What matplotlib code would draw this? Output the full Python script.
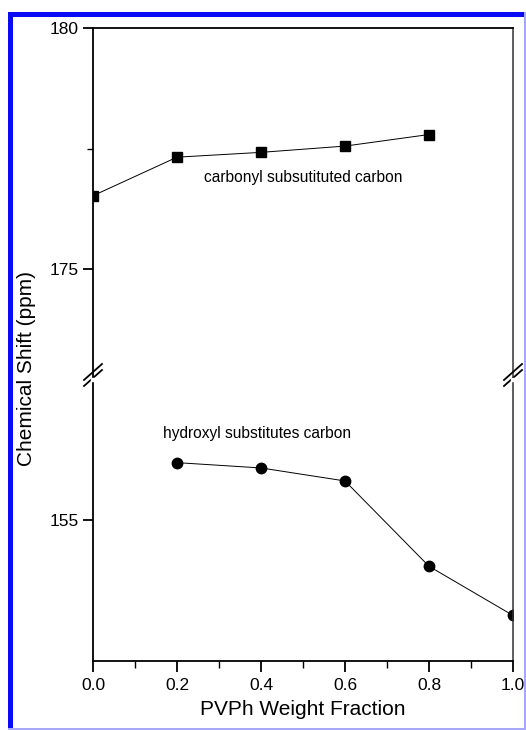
import matplotlib
matplotlib.use("Agg")
import matplotlib.pyplot as plt
from matplotlib.patches import Rectangle
from matplotlib.lines import Line2D
from matplotlib.ticker import MultipleLocator, FixedLocator, NullLocator

plt.rcParams['font.family'] = ['Liberation Sans', 'DejaVu Sans']

# data
x_carbonyl = [0.0, 0.2, 0.4, 0.6, 0.8]
y_carbonyl = [176.52, 177.32, 177.42, 177.55, 177.79]
x_hydroxyl = [0.2, 0.4, 0.6, 0.8, 1.0]
y_hydroxyl = [156.19, 156.08, 155.81, 154.04, 153.02]
x_ticks = [0.0, 0.2, 0.4, 0.6, 0.8, 1.0]
x_ticklabels = ["0.0", "0.2", "0.4", "0.6", "0.8", "1.0"]
upper_yticks = [175, 180]
lower_yticks = [155]

W, H = 526, 730
fig = plt.figure(figsize=(W / 100, H / 100), dpi=100)

L, R = 93 / W, 513 / W
top = 1 - 28 / H
bot = 1 - 661 / H
brk = 1 - 378 / H

ax_u = fig.add_axes([L, brk, R - L, top - brk])
ax_l = fig.add_axes([L, bot, R - L, brk - bot])

ppu = 48.2  # pixels per ppm
ax_u.set_ylim(180 - (378 - 28) / ppu, 180)
ax_l.set_ylim(155 - (661 - 520) / ppu, 155 + (520 - 378) / ppu)

for ax in (ax_u, ax_l):
    ax.set_xlim(0, 1.0)
    ax.patch.set_alpha(0)
    for s in ax.spines.values():
        s.set_linewidth(1.3)
        s.set_color('black')
    ax.spines['right'].set_linewidth(1.1)
    ax.spines['right'].set_color('#333333')
    ax.tick_params(axis='y', which='major', direction='out', length=7, width=1.3,
                   labelsize=12.5, pad=3)
    ax.tick_params(axis='y', which='minor', direction='out', length=4, width=1.0)
    ax.tick_params(right=False)

ax_u.spines['bottom'].set_visible(False)
ax_l.spines['top'].set_visible(False)
ax_u.set_xticks([])
ax_u.yaxis.set_major_locator(FixedLocator(upper_yticks))
ax_u.yaxis.set_minor_locator(MultipleLocator(2.5))
ax_l.yaxis.set_major_locator(FixedLocator(lower_yticks))
ax_l.yaxis.set_minor_locator(NullLocator())

ax_l.set_xticks(x_ticks)
ax_l.set_xticklabels(x_ticklabels)
ax_l.xaxis.set_minor_locator(MultipleLocator(0.1))
ax_l.tick_params(axis='x', which='major', direction='out', length=8, width=1.3,
                 labelsize=12.5, pad=4)
ax_l.tick_params(axis='x', which='minor', direction='out', length=5, width=1.0)

ax_u.plot(x_carbonyl, y_carbonyl, color='black', lw=0.7, marker='s', ms=7.2,
          mfc='black', mec='black')
ax_l.plot(x_hydroxyl, y_hydroxyl, color='black', lw=0.7, marker='o', ms=7.5,
          mfc='black', mec='black')

ax_u.text(0.264, 176.9, "carbonyl subsutituted carbon", fontsize=11.2, va='center', ha='left')
ax_l.text(0.167, 156.8, "hydroxyl substitutes carbon", fontsize=11.2, va='center', ha='left')

ax_l.set_xlabel("PVPh Weight Fraction", fontsize=15, labelpad=5)
fig.text(27 / W, 1 - 368 / H, "Chemical Shift (ppm)", rotation=90, fontsize=15,
         ha='center', va='center')

# break marks
for xp in (L, R):
    for dy in (-6, 0):
        x0 = xp * W - 9
        x1 = xp * W + 9
        y0 = 378 + dy + 8
        y1 = 378 + dy - 8
        fig.add_artist(Line2D([x0 / W, x1 / W], [1 - y0 / H, 1 - y1 / H],
                              transform=fig.transFigure, color='black', lw=1.3))
    fig.add_artist(Rectangle((xp - 2 / W, 1 - 381 / H), 4 / W, 3 / H,
                             transform=fig.transFigure, color='white', zorder=5))

# blue frame
fig.add_artist(Rectangle((8 / W, 0), 5 / W, 1 - 12 / H, transform=fig.transFigure,
                         color='#0A0AF5', lw=0))
fig.add_artist(Rectangle((8 / W, 1 - 17 / H), 1 - 8 / W, 5 / H, transform=fig.transFigure,
                         color='#0A0AF5', lw=0))
fig.add_artist(Rectangle((524 / W, 0), 2 / W, 1 - 12 / H, transform=fig.transFigure,
                         color='#A8A8F8', lw=0))
fig.add_artist(Rectangle((8 / W, 0), 1 - 8 / W, 2 / H, transform=fig.transFigure,
                         color='#A8A8F8', lw=0))

fig.savefig("out.png", dpi=100)
